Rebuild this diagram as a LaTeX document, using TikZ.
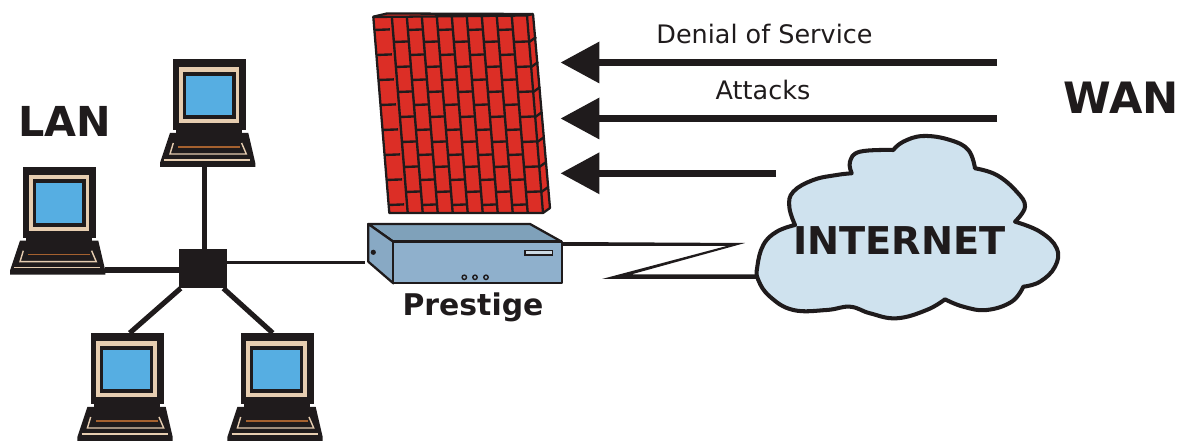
\documentclass[tikz,border=0pt]{standalone}
\usepackage{xcolor}
\usepackage{fontspec}
\setmainfont{DejaVu Sans}
\usetikzlibrary{arrows.meta}

\definecolor{ink}{HTML}{1F1B1C}
\definecolor{brick}{HTML}{DC2E26}
\definecolor{screen}{HTML}{56AEE2}
\definecolor{shell}{HTML}{E6CDB0}
\definecolor{slot}{HTML}{A5612F}
\definecolor{boxfront}{HTML}{8FB0CC}
\definecolor{boxtop}{HTML}{7FA1BA}
\definecolor{boxside}{HTML}{88A9C4}
\definecolor{cloudfill}{HTML}{CFE2EE}

\tikzset{
  thickwire/.style={ink, line width=2.9pt},
  thinwire/.style={ink, line width=1.8pt},
  attack/.style={ink, line width=4pt, -{Triangle[length=0.78cm, width=0.8cm]}},
  mortar/.style={ink, line width=1.35pt},
  outline/.style={ink, line width=1.3pt, line join=round},
  biglabel/.style={ink, font=\bfseries\fontsize{24}{24}\selectfont, inner sep=0pt},
  smalllabel/.style={ink, font=\fontsize{14.5}{15}\selectfont, inner sep=0pt},
  laptop/.pic={
    \fill[ink] (0,0) rectangle (73,71);
    \fill[ink] (3,71) rectangle (69,74);
    \fill[shell] (5.7,8.3) rectangle (66,64);
    \fill[ink] (9.3,12.7) rectangle (62.7,60);
    \fill[screen] (12.7,16.7) rectangle (59,56);
    \fill[ink] (-3.3,74) -- (75,74) -- (82,104) -- (82,108) -- (-13.3,108) -- (-13.3,104) -- cycle;
    \draw[shell, line width=0.8pt] (0,84) -- (-3.3,95) -- (73,95) -- (68.3,84);
    \draw[slot, line width=0.7pt] (5,88) -- (67,88);
    \draw[shell, line width=0.7pt] (-9,101) -- (77,101);
    \coordinate (-e) at (82,103.3);
    \coordinate (-s) at (31,108);
    \coordinate (-nl) at (39,0);
    \coordinate (-nr) at (32,0);
  }
}

\begin{document}
\begin{tikzpicture}[x=0.02cm, y=-0.02cm]
  \useasboundingbox (0,0) rectangle (1184,445);

  %% lan
  \pic (top) at (173.3,59) {laptop};
  \pic (left) at (23.3,166.7) {laptop};
  \pic (lowleft) at (90.7,333) {laptop};
  \pic (lowright) at (240.7,333) {laptop};
  \node[fill=ink, minimum width=0.96cm, minimum height=0.78cm, inner sep=0pt] (hub) at (203,268.5) {};

  \coordinate (prestigewest) at (365,262.7);
  \draw[thickwire] (top-s) -- (top-s |- hub.north);
  \draw[thickwire] (left-e) -- (left-e -| hub.west);
  \draw[thickwire] (lowleft-nl) -- ([xshift=0.04cm]hub.south west);
  \draw[thickwire] (lowright-nr) -- ([xshift=-0.08cm]hub.south east);
  \draw[thinwire] (hub.east |- prestigewest) -- (prestigewest);

  \node[biglabel, font=\bfseries\fontsize{23.5}{24}\selectfont] (lan) at (65,121) {LAN};
  \node[biglabel, font=\bfseries\fontsize{24.6}{25}\selectfont] (wan) at (1121,98) {WAN};

  %% firewall
  \fill[brick] (373.3,16.7) -- (387,13.5) -- (533,14) -- (550,208) -- (543,213) -- (389.3,213) -- cycle;
  \begin{scope}
    \clip (373.3,17) -- (527,15) -- (543,213) -- (389.3,213) -- cycle;
    \foreach \i in {0,...,9} {
      \pgfmathsetmacro\left{\i==0 ? 373.3 : 376.7+15*\i}
      \pgfmathsetmacro\first{mod(\i,2)==0 ? 30 : 42}
      \foreach \j in {0,...,7} {
        \pgfmathsetmacro\rowy{\first+25*\j}
        \pgfmathsetmacro\rowx{\left+(\rowy-17)*16/196}
        \draw[mortar] (\rowx,\rowy) -- ++(15.5,-0.6);
      }
    }
    \foreach \i in {1,...,9} {
      \draw[mortar] (376.7+15*\i,15) -- (392.7+15*\i,213);
    }
  \end{scope}
  \foreach \j in {0,...,6} {
    \pgfmathsetmacro\rowy{42+25*\j}
    \pgfmathsetmacro\rowx{527+(\rowy-15)*16/198}
    \draw[mortar] (\rowx,\rowy) -- ++(7,-5);
  }
  \draw[outline] (373.3,16.7) -- (387,13.5) -- (533,14) -- (550,208) -- (543,213) -- (389.3,213) -- cycle;
  \draw[outline] (373.3,17) -- (527,15.5) -- (543,213);
  \draw[outline] (527,15.5) -- (533,14);

  %% attacks
  \coordinate (walla) at (560.5,62.5);
  \coordinate (wallb) at (560.5,118.5);
  \coordinate (wallc) at (560.5,173.3);
  \coordinate (wana) at (997,62.5);
  \coordinate (wanb) at (997,118.5);
  \coordinate (wanc) at (776,173.3);
  \draw[attack] (wana) -- (walla);
  \draw[attack] (wanb) -- (wallb);
  \draw[attack] (wanc) -- (wallc);
  \node[smalllabel] (denial) at (764.5,34) {Denial of Service};
  \node[smalllabel] (attacks) at (763,90) {Attacks};

  %% prestige
  \filldraw[outline, fill=boxtop] (368.3,224) -- (530,224) -- (561.7,241.7) -- (393.3,241.7) -- cycle;
  \filldraw[outline, fill=boxside] (368.3,224) -- (393.3,241.7) -- (393.3,283.3) -- (368.3,261.7) -- cycle;
  \filldraw[outline, fill=boxfront] (393.3,241.7) rectangle (561.7,283.3);
  \draw[ink, line width=1.6pt] (393.3,241.7) -- (561.7,241.7);
  \filldraw[ink, line width=0.8pt, fill=boxtop!40] (525,250.7) rectangle (552.7,255);
  \foreach \dotx in {464.3,475,486} {
    \filldraw[ink, fill=boxfront, line width=0.8pt] (\dotx,277.3) circle (2.2);
  }
  \fill[ink] (373.3,252.3) circle (2.6);
  \node[biglabel, font=\bfseries\fontsize{17}{17}\selectfont] (prestige) at (473,307) {Prestige};

  %% internet
  \coordinate (prestigeeast) at (561.7,242);
  \coordinate (cloudwest) at (757.5,276.7);
  \draw[line width=2.3pt, ink, line join=round, fill=cloudfill]
    plot[smooth, tension=0.7] coordinates {(795,225) (776.7,231.7) (763.3,245) (757.3,266.7) (758.3,280) (770,296.7) (793.3,310) (826.7,310) (850,306.7) (870,313.3) (896.7,318.3) (926.7,310) (945,299.3)}
    -- plot[smooth, tension=0.7] coordinates {(945,299.3) (963.3,306.7) (986.7,310) (1011.7,301.7) (1023.3,286.7)}
    -- plot[smooth, tension=0.7] coordinates {(1023.3,286.7) (1040,281.7) (1055,266.7) (1056.7,248.3) (1040,231.7) (1015,221.7)}
    -- plot[smooth, tension=0.7] coordinates {(1015,221.7) (1025,206.7) (1016.7,191.7) (996.7,175) (975,168.3)}
    -- plot[smooth, tension=0.7] coordinates {(975,168.3) (968.3,150) (950,140) (923.3,136) (903.3,141.7) (893.3,150)}
    -- plot[smooth, tension=0.7] coordinates {(893.3,150) (860,151.7) (850,161.7) (851.7,173.3)}
    -- plot[smooth, tension=0.7] coordinates {(851.7,173.3) (836.7,175) (813.3,180) (793.3,191.7) (789.3,206.7) (795,225)}
    -- cycle;
  \fill[ink] (prestigeeast) -- (745,243) -- (631.7,274.3) -- (cloudwest |- 0,274.3) -- (cloudwest |- 0,279) -- (602,279) -- (726.7,246) -- (561.7,246) -- cycle;
  \node[biglabel, font=\bfseries\fontsize{21.8}{22}\selectfont] (internet) at (899.5,240.5) {INTERNET};
\end{tikzpicture}
\end{document}
